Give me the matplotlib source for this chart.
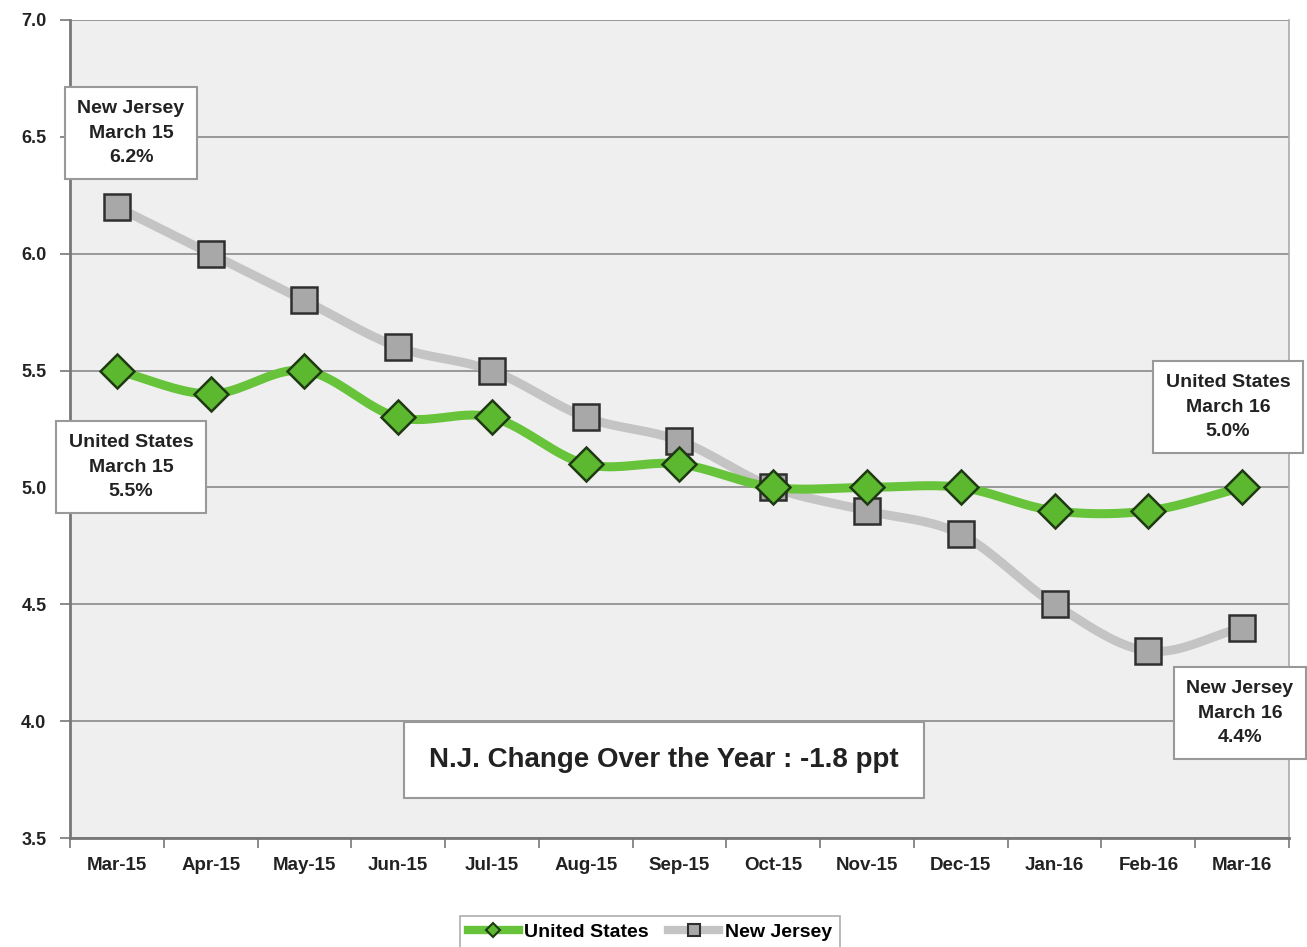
import numpy as np
import matplotlib
matplotlib.use("Agg")
import matplotlib.pyplot as plt
from matplotlib import font_manager
from matplotlib.lines import Line2D

months = ["Mar-15", "Apr-15", "May-15", "Jun-15", "Jul-15", "Aug-15", "Sep-15",
          "Oct-15", "Nov-15", "Dec-15", "Jan-16", "Feb-16", "Mar-16"]
us_rate = [5.5, 5.4, 5.5, 5.3, 5.3, 5.1, 5.1, 5.0, 5.0, 5.0, 4.9, 4.9, 5.0]
nj_rate = [6.2, 6.0, 5.8, 5.6, 5.5, 5.3, 5.2, 5.0, 4.9, 4.8, 4.5, 4.3, 4.4]
y_ticks = [3.5, 4.0, 4.5, 5.0, 5.5, 6.0, 6.5, 7.0]

names = {f.name for f in font_manager.fontManager.ttflist}
FAM = ["Liberation Sans Narrow", "Liberation Sans", "DejaVu Sans"]
FAM = [f for f in FAM if f in names] or ["DejaVu Sans"]
plt.rcParams['font.family'] = FAM

def smooth(xs, ys, n=20):
    # Catmull-Rom spline through the data points (Excel-style smoothed line)
    xs = np.asarray(xs, float); ys = np.asarray(ys, float)
    P = np.column_stack([xs, ys])
    P = np.vstack([P[0] - (P[1] - P[0]), P, P[-1] + (P[-1] - P[-2])])
    out = []
    t = np.linspace(0, 1, n, endpoint=False)[:, None]
    for i in range(1, len(P) - 2):
        p0, p1, p2, p3 = P[i - 1], P[i], P[i + 1], P[i + 2]
        seg = 0.5 * ((2 * p1) + (-p0 + p2) * t + (2 * p0 - 5 * p1 + 4 * p2 - p3) * t ** 2
                     + (-p0 + 3 * p1 - 3 * p2 + p3) * t ** 3)
        out.append(seg)
    out.append(P[-2][None, :])
    out = np.vstack(out)
    return out[:, 0], out[:, 1]

fig = plt.figure(figsize=(13.07, 9.47), dpi=100)
ax = fig.add_axes([70 / 1307, 1 - 838 / 947, 1219 / 1307, 818 / 947])
ax.set_facecolor("#efefef")

x = np.arange(len(months))
green = "#66c33a"
gray = "#c4c4c4"

sx, sy = smooth(x, nj_rate)
ax.plot(sx, sy, color=gray, lw=6.5, solid_capstyle="butt", zorder=3)
sx, sy = smooth(x, us_rate)
ax.plot(sx, sy, color=green, lw=6.5, solid_capstyle="butt", zorder=4)

ax.plot(x, nj_rate, ls="none", marker="s", ms=19, mfc="#a8a8a8", mec="#2f2f2f", mew=1.8, zorder=5)
ax.plot(x, us_rate, ls="none", marker="D", ms=17.5, mfc="#5cb82e", mec="#1f3a12", mew=1.8, zorder=6)

ax.set_xlim(-0.5, len(months) - 0.5)
ax.set_ylim(3.5, 7.0)
ax.set_yticks(y_ticks)
ax.set_yticklabels([f"{v:.1f}" for v in y_ticks], fontsize=13, fontweight="bold", color="#222222")
ax.set_xticks(x)
ax.set_xticklabels(months, fontsize=13.5, fontweight="bold", color="#222222")
ax.tick_params(axis="x", length=0, pad=14)
ax.set_xticks(np.arange(len(months) + 1) - 0.5, minor=True)
ax.tick_params(axis="x", which="minor", length=7, width=1.2, color="#777777", direction="out")
ax.tick_params(axis="y", length=7, width=1.2, color="#777777", pad=10)
ax.grid(axis="y", color="#8a8a8a", lw=1.2, zorder=1)
ax.set_axisbelow(True)
for s in ["left", "bottom"]:
    ax.spines[s].set_color("#777777"); ax.spines[s].set_linewidth(2)
ax.spines["right"].set_color("#aaaaaa"); ax.spines["right"].set_linewidth(1.2)
ax.spines["top"].set_visible(False)

def box(xc, yc, text, fs=14):
    fig.text(xc / 1307, 1 - yc / 947, text, ha="center", va="center", fontsize=fs,
             fontweight="bold", color="#222222", linespacing=1.6,
             bbox=dict(boxstyle="square,pad=0.65", fc="white", ec="#999999", lw=1.5), zorder=10)

box(131, 133, "New Jersey\nMarch 15\n6.2%")
box(131, 467, "United States\nMarch 15\n5.5%")
box(1228, 407, "United States\nMarch 16\n5.0%")
box(1240, 713, "New Jersey\nMarch 16\n4.4%")
fig.text(664 / 1307, 1 - 760 / 947, "N.J. Change Over the Year : -1.8 ppt", ha="center", va="center",
         fontsize=20, fontweight="bold", color="#222222",
         bbox=dict(boxstyle="square,pad=0.9", fc="white", ec="#999999", lw=1.5), zorder=10)

h1 = Line2D([], [], color=green, lw=6, marker="D", ms=7, mfc="#5cb82e", mec="#1f3a12", mew=1.5)
h2 = Line2D([], [], color=gray, lw=6, marker="s", ms=8, mfc="#a8a8a8", mec="#2f2f2f", mew=1.5)
leg = fig.legend([h1, h2], ["United States", "New Jersey"], loc="upper center",
                 bbox_to_anchor=(650 / 1307, 1 - 906 / 947), ncol=2, frameon=True, fancybox=False,
                 prop=dict(size=14, weight="bold"), handlelength=2.6, columnspacing=1.0,
                 handletextpad=0.3, borderpad=0.4)
leg.get_frame().set_edgecolor("#999999")
leg.get_frame().set_linewidth(1.2)

fig.savefig("out.png", dpi=100)
